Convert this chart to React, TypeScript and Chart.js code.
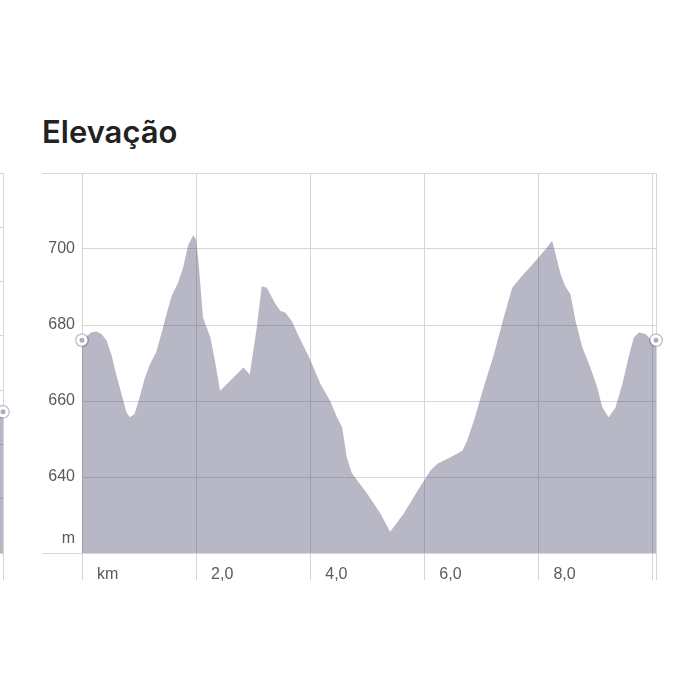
import React, { useEffect, useRef } from "react";
import { Chart, registerables } from "chart.js";

Chart.register(...registerables);

const titleText = "Elevação";

const distanceKm = [
  0, 0.16, 0.25, 0.34, 0.43, 0.52, 0.6, 0.69, 0.78, 0.84, 0.92, 1.01, 1.1, 1.19, 1.3, 1.39,
  1.48, 1.57, 1.68, 1.77, 1.86, 1.95, 2.0, 2.04, 2.12, 2.25, 2.33, 2.42, 2.83, 2.94, 3.06,
  3.15, 3.24, 3.39, 3.48, 3.56, 3.68, 3.8, 3.98, 4.18, 4.35, 4.47, 4.56, 4.64, 4.73, 5.0,
  5.23, 5.4, 5.64, 5.87, 6.11, 6.23, 6.46, 6.67, 6.75, 6.87, 7.04, 7.22, 7.39, 7.54, 7.68,
  7.92, 8.12, 8.24, 8.3, 8.39, 8.47, 8.56, 8.65, 8.77, 8.91, 9.03, 9.12, 9.23, 9.35, 9.47,
  9.58, 9.67, 9.76, 9.88, 9.96, 10.06,
];

const elevationM = [
  676, 678, 678.3, 677.6, 676, 672, 667, 662, 657, 655.7, 656.6, 661, 666, 669.7, 672.8, 677.6,
  682.8, 687.6, 691, 695, 701, 703.6, 702.5, 697, 682, 676.7, 670.6, 662.7, 668.8, 667, 679,
  690.2, 689.8, 685.5, 683.7, 683.3, 681, 677, 671.5, 664.5, 660, 655.7, 653, 645.2, 641, 635.6,
  630.4, 625.6, 630.4, 636.1, 641.8, 643.5, 645.2, 647, 649.6, 654.9, 663.6, 672.3, 681.9, 689.8, 692.4,
  696.4, 699.9, 702.2, 698.6, 693.3, 690.2, 688.1, 681.1, 674.1, 668.8, 663.6, 658.3, 655.7, 658.3, 664.5,
  671.5, 676.7, 678, 677.6, 676.3, 676,
];

const yTickValues = [620, 640, 660, 680, 700, 720];
const yUnitLabel = "m";
const xTickKm = [0, 2, 4, 6, 8, 10];
const xTickLabels = ["km", "2,0", "4,0", "6,0", "8,0", ""];

// neighbouring (partly visible) profile on the left edge
const prevRouteKm = [0, 10];
const prevRouteElev = [652, 652];

const FILL = "rgba(77,75,112,0.4)";
const GRID = "#d6d6d6";
const MARKER = "#aeadbd";
const MARKER_HALO = "#c6c5d1";
const FONT_FAMILY = "'Liberation Sans', Arial, sans-serif";
const TICK_COLOR = "#5a5a5a";

function areaDataset(xs: number[], ys: number[], ends: number[]) {
  return {
    data: xs.map((x, i) => ({ x, y: ys[i] })),
    fill: "start",
    backgroundColor: FILL,
    borderColor: "rgba(0,0,0,0)",
    borderWidth: 0,
    tension: 0,
    clip: false,
    pointRadius: (ctx: any) => (ends.includes(ctx.dataIndex) ? 4 : 0),
    pointBackgroundColor: MARKER,
    pointBorderColor: "#ffffff",
    pointBorderWidth: 3,
    pointHoverRadius: 0,
  } as any;
}

function haloDataset(xs: number[], ys: number[], ends: number[]) {
  return {
    data: xs.map((x, i) => ({ x, y: ys[i] })),
    fill: false,
    showLine: false,
    borderWidth: 0,
    clip: false,
    pointRadius: (ctx: any) => (ends.includes(ctx.dataIndex) ? 7 : 0),
    pointBackgroundColor: MARKER_HALO,
    pointBorderWidth: 0,
    pointHoverRadius: 0,
  } as any;
}

export default function App() {
  const mainRef = useRef<HTMLCanvasElement | null>(null);
  const leftRef = useRef<HTMLCanvasElement | null>(null);

  useEffect(() => {
    const lastKm = distanceKm[distanceKm.length - 1];
    const n = distanceKm.length;
    const main = new Chart(mainRef.current as HTMLCanvasElement, {
      type: "line",
      data: {
        datasets: [
          areaDataset(distanceKm, elevationM, [0, n - 1]),
          haloDataset(distanceKm, elevationM, [0, n - 1]),
        ],
      },
      options: {
        responsive: false,
        animation: false,
        events: [],
        layout: { padding: { top: 5, right: 10, left: 0, bottom: 0 } },
        plugins: { legend: { display: false }, tooltip: { enabled: false } },
        scales: {
          x: {
            type: "linear",
            min: 0,
            max: lastKm,
            afterBuildTicks: (s: any) => {
              s.ticks = [...xTickKm, lastKm].map((v) => ({ value: v }));
            },
            afterFit: (s: any) => {
              s.height = 40;
            },
            grid: { color: GRID, lineWidth: 1, drawTicks: true, tickLength: 27, tickColor: GRID },
            border: { display: false },
            ticks: {
              align: "start",
              labelOffset: 15,
              padding: -15,
              autoSkip: false,
              maxRotation: 0,
              font: { family: FONT_FAMILY, size: 16 },
              color: TICK_COLOR,
              callback: (v: any) => {
                const i = xTickKm.indexOf(Number(v));
                return i >= 0 ? xTickLabels[i] : "";
              },
            },
          },
          y: {
            min: yTickValues[0],
            max: yTickValues[yTickValues.length - 1],
            afterFit: (s: any) => {
              s.width = 40;
            },
            grid: {
              color: GRID,
              lineWidth: 1,
              tickLength: 40,
              tickColor: (ctx: any) =>
                ctx.tick &&
                (ctx.tick.value === yTickValues[0] || ctx.tick.value === yTickValues[yTickValues.length - 1])
                  ? GRID
                  : "rgba(0,0,0,0)",
            },
            border: { display: false },
            ticks: {
              stepSize: 20,
              padding: -33,
              font: { family: FONT_FAMILY, size: 16, lineHeight: 1.75 },
              color: TICK_COLOR,
              callback: (v: any) => {
                if (v === yTickValues[0]) return [yUnitLabel, ""];
                if (v === yTickValues[yTickValues.length - 1]) return "";
                return String(v);
              },
            },
          },
        },
      } as any,
    });

    const m = prevRouteKm.length;
    const left = new Chart(leftRef.current as HTMLCanvasElement, {
      type: "line",
      data: {
        datasets: [
          areaDataset(prevRouteKm, prevRouteElev, [m - 1]),
          haloDataset(prevRouteKm, prevRouteElev, [m - 1]),
        ],
      },
      options: {
        responsive: false,
        animation: false,
        events: [],
        layout: { padding: { top: 5, right: 10, left: 0, bottom: 0 } },
        plugins: { legend: { display: false }, tooltip: { enabled: false } },
        scales: {
          x: {
            type: "linear",
            min: 0,
            max: prevRouteKm[m - 1],
            afterBuildTicks: (s: any) => {
              s.ticks = [{ value: prevRouteKm[m - 1] }];
            },
            afterFit: (s: any) => {
              s.height = 40;
            },
            ticks: { display: false },
            grid: { color: GRID, tickLength: 27, tickColor: GRID },
            border: { display: false },
          },
          y: {
            min: 600,
            max: 740,
            afterFit: (s: any) => {
              s.width = 0;
            },
            ticks: { display: false, stepSize: 20 },
            grid: { color: GRID, drawTicks: false },
            border: { display: false },
          },
        },
      } as any,
    });

    return () => {
      main.destroy();
      left.destroy();
    };
  }, []);

  return (
    <div
      style={{
        position: "absolute",
        left: 0,
        top: 0,
        width: 700,
        height: 700,
        overflow: "hidden",
        background: "#ffffff",
      }}
    >
      <div
        style={{
          position: "absolute",
          left: 42,
          top: 116,
          fontFamily: "Inter, 'Liberation Sans', sans-serif",
          fontWeight: 600,
          fontSize: 31,
          lineHeight: 1,
          color: "#222222",
          whiteSpace: "nowrap",
        }}
      >
        {titleText}
      </div>
      <canvas
        ref={leftRef}
        width={120}
        height={427}
        style={{ position: "absolute", left: -107, top: 166, width: 120, height: 427 }}
      />
      <canvas
        ref={mainRef}
        width={624}
        height={427}
        style={{ position: "absolute", left: 42, top: 166, width: 624, height: 427 }}
      />
    </div>
  );
}
